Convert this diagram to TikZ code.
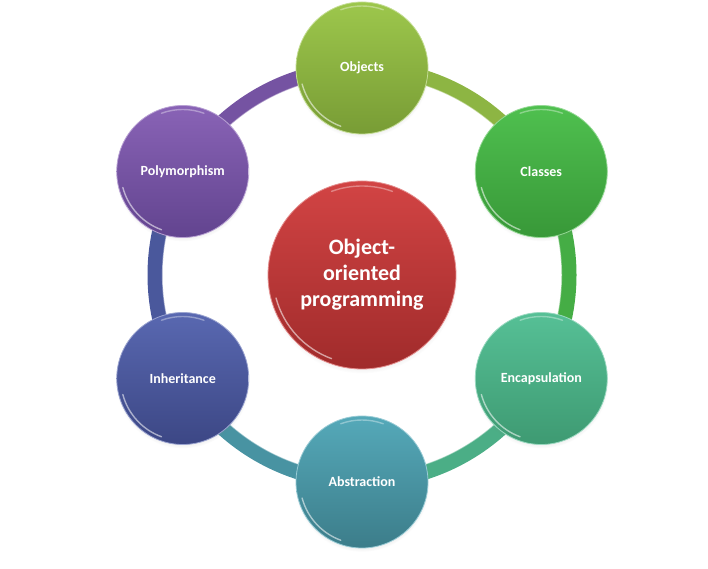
\documentclass[tikz,border=0pt]{standalone}
\usepackage{fontspec}
\setmainfont{Carlito}
\usetikzlibrary{calc,shadows}
\definecolor{objT}{HTML}{9DC74C}\definecolor{objB}{HTML}{789C35}\definecolor{objM}{HTML}{8DB543}
\definecolor{clsT}{HTML}{4FC04F}\definecolor{clsB}{HTML}{389838}\definecolor{clsM}{HTML}{45AD45}
\definecolor{encT}{HTML}{56C096}\definecolor{encB}{HTML}{3E9A72}\definecolor{encM}{HTML}{4BAE86}
\definecolor{absT}{HTML}{55A9B9}\definecolor{absB}{HTML}{3C7D8A}\definecolor{absM}{HTML}{4893A2}
\definecolor{inhT}{HTML}{5968B1}\definecolor{inhB}{HTML}{3C4785}\definecolor{inhM}{HTML}{4A589C}
\definecolor{polT}{HTML}{8963B6}\definecolor{polB}{HTML}{62448F}\definecolor{polM}{HTML}{7553A2}
\definecolor{cenT}{HTML}{D24444}\definecolor{cenB}{HTML}{A02B2B}
\tikzset{
  ball/.style 2 args={circle, inner sep=0pt, text=white, top color=#1, bottom color=#2,
    draw=#1!60!white, line width=0.8pt,
    circular drop shadow={shadow xshift=0pt, shadow yshift=-2.5pt, opacity=0.25, shadow scale=1.02}},
  outer/.style={minimum size=132pt, font=\fontsize{14}{16}\selectfont\bfseries},
  core/.style={minimum size=188pt, align=center, font=\fontsize{22}{26}\selectfont\bfseries},
  band/.style={line width=15pt, draw=#1},
  gloss/.style={draw=white, line width=1.4pt, opacity=0.55, line cap=round},
}
\begin{document}
\begin{tikzpicture}[x=1pt,y=1pt]
\useasboundingbox (0,0) rectangle (708,569);
\coordinate (c) at (362,294);
% ring segments
\foreach \a/\b/\col in {90/30/objM, 30/-30/clsM, -30/-90/encM, -90/-150/absM, -150/-210/inhM, 150/90/polM}{
  \draw[band=\col] ($(c)+(\a:207pt)$) arc[start angle=\a, end angle=\b, radius=207pt];
  \draw[white, opacity=0.45, line width=1.2pt] ($(c)+(\a:199.5pt)$) arc[start angle=\a, end angle=\b, radius=199.5pt];
}
% outer circles
\node[ball={objT}{objB}, outer] (objects) at ($(c)+(90:207pt)$) {Objects};
\node[ball={clsT}{clsB}, outer] (classes) at ($(c)+(30:207pt)$) {Classes};
\node[ball={encT}{encB}, outer] (encaps) at ($(c)+(-30:207pt)$) {Encapsulation};
\node[ball={absT}{absB}, outer] (abstr) at ($(c)+(-90:207pt)$) {Abstraction};
\node[ball={inhT}{inhB}, outer] (inher) at ($(c)+(210:207pt)$) {Inheritance};
\node[ball={polT}{polB}, outer] (poly) at ($(c)+(150:207pt)$) {Polymorphism};
% centre
\node[ball={cenT}{cenB}, core] (oop) at (c) {Object-\\oriented\\programming};
% gloss highlights
\foreach \n in {objects,classes,encaps,abstr,inher,poly}{
  \draw[gloss] ($(\n.center)+(195:62pt)$) arc[start angle=195, end angle=250, radius=62pt];
  \draw[gloss, opacity=0.35] ($(\n.center)+(70:62pt)$) arc[start angle=70, end angle=110, radius=62pt];
}
\draw[gloss] ($(oop.center)+(195:89pt)$) arc[start angle=195, end angle=250, radius=89pt];
\draw[gloss, opacity=0.35] ($(oop.center)+(70:89pt)$) arc[start angle=70, end angle=110, radius=89pt];
\end{tikzpicture}
\end{document}
